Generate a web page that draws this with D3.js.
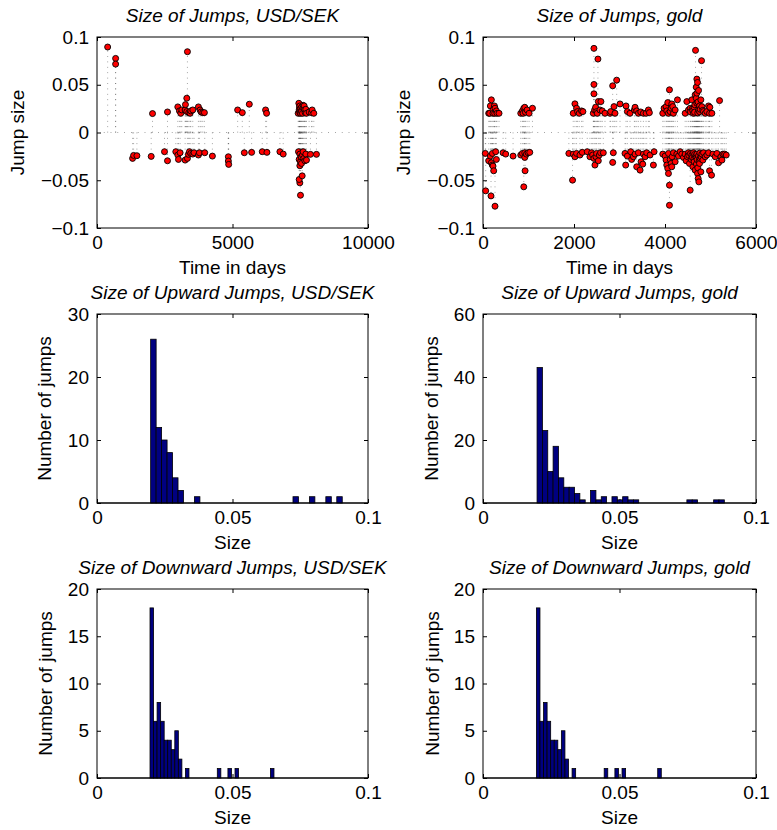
<!DOCTYPE html>
<html>
<head>
<meta charset="utf-8">
<script src="https://cdn.jsdelivr.net/npm/d3@7"></script>
<style>
  body { margin: 0; background: #fff; }
  text { font-family: "Liberation Sans", Arial, Helvetica, sans-serif; fill: #000; }
</style>
</head>
<body>
<div id="figure"></div>
<script>
// Jump sizes: [day, size]
const usdsekJumps = [
  [393,0.0895],[687,0.0776],[687,0.0716],[2049,0.0198],[2601,0.0215],[2982,0.0268],[3043,0.0226],[3092,0.0201],
  [3129,0.0236],[3252,0.0236],[3264,0.0292],[3313,0.0359],[3337,0.0846],[3313,0.0219],[3387,0.0208],[3436,0.0201],
  [3460,0.0226],[3534,0.0236],[3742,0.0268],[3804,0.0236],[3841,0.0215],[3902,0.0208],[3963,0.0208],[5190,0.0236],
  [5362,0.0208],[5620,0.0296],[6221,0.0236],[6258,0.0201],[7423,0.0201],[7448,0.0306],[7460,0.0236],[7473,0.0264],
  [7485,0.0278],[7485,0.0208],[7509,0.0201],[7522,0.0254],[7546,0.0219],[7559,0.0271],[7583,0.0201],[7607,0.0285],
  [7632,0.0254],[7644,0.0278],[7656,0.0236],[7681,0.0208],[7706,0.0243],[7730,0.0201],[7828,0.0215],[7914,0.0208],
  [7939,0.0236],[8000,0.0201],
  [1313,-0.0271],[1350,-0.0240],[1472,-0.0243],[2000,-0.0250],[2491,-0.0201],[2601,-0.0296],[2908,-0.0201],[2982,-0.0236],
  [3006,-0.0282],[3067,-0.0212],[3252,-0.0289],[3337,-0.0271],[3374,-0.0229],[3411,-0.0201],[3460,-0.0219],[3534,-0.0226],
  [3583,-0.0212],[3742,-0.0236],[3779,-0.0212],[3975,-0.0212],[4258,-0.0247],[4847,-0.0254],[4847,-0.0299],[4859,-0.0334],
  [5436,-0.0212],[5706,-0.0208],[6098,-0.0201],[6270,-0.0208],[6749,-0.0201],[6871,-0.0226],[7435,-0.0201],[7460,-0.0282],
  [7485,-0.0226],[7485,-0.0348],[7485,-0.0527],[7509,-0.0306],[7509,-0.0657],[7534,-0.0254],[7546,-0.0324],[7460,-0.0492],
  [7571,-0.0454],[7583,-0.0236],[7607,-0.0201],[7632,-0.0271],[7669,-0.0296],[7706,-0.0226],[7730,-0.0289],[7877,-0.0229],
  [8098,-0.0229]
];

const goldJumps = [
  [125,0.0201],[147,0.0201],[162,0.0278],[184,0.0342],[220,0.0236],[220,0.0201],[250,0.0278],[257,0.0201],
  [264,0.0254],[294,0.0226],[308,0.0201],[352,0.0201],
  [830,0.0201],[866,0.0226],[881,0.0201],[896,0.0254],[918,0.0264],[933,0.0212],[969,0.0236],[1013,0.0201],[1087,0.0254],
  [1983,0.0201],[2020,0.0300],[2056,0.0254],[2078,0.0219],[2115,0.0201],[2166,0.0226],[2196,0.0219],
  [2424,0.0201],[2438,0.0881],[2438,0.0503],[2438,0.0405],[2453,0.0236],[2475,0.0264],[2497,0.0219],[2512,0.0201],
  [2526,0.0769],[2534,0.0324],[2570,0.0236],[2592,0.0324],[2622,0.0226],[2681,0.0201],[2791,0.0201],[2806,0.0219],
  [2850,0.0489],[2879,0.0271],[2901,0.0201],[2938,0.0548],[3011,0.0299],
  [3143,0.0278],[3173,0.0219],[3231,0.0201],[3327,0.0236],[3342,0.0264],[3378,0.0226],[3415,0.0201],[3467,0.0215],
  [3525,0.0201],[3584,0.0201],[3635,0.0236],[3657,0.0208],
  [3951,0.0201],[3980,0.0254],[4024,0.0271],[4039,0.0226],[4061,0.0313],[4076,0.0201],[4098,0.0447],[4113,0.0219],
  [4135,0.0254],[4149,0.0299],[4171,0.0271],[4186,0.0201],[4223,0.0236],[4274,0.0342],
  [4443,0.0201],[4480,0.0324],[4516,0.0236],[4553,0.0254],[4560,0.0215],[4590,0.0342],[4600,0.0250],[4610,0.0228],
  [4626,0.0201],[4641,0.0264],[4650,0.0212],[4655,0.0290],[4663,0.0394],[4671,0.0860],[4686,0.0475],[4686,0.0359],
  [4700,0.0559],[4700,0.0306],[4700,0.0412],[4715,0.0524],[4720,0.0205],[4725,0.0320],[4737,0.0440],[4737,0.0236],
  [4759,0.0278],[4760,0.0218],[4773,0.0243],[4788,0.0342],[4803,0.0752],[4810,0.0271],[4830,0.0232],[4847,0.0219],
  [4884,0.0201],[4920,0.0219],[4957,0.0278],[4979,0.0201],[4986,0.0264],[5030,0.0201],[5199,0.0334],
  [51,-0.0219],[59,-0.0611],[125,-0.0296],[162,-0.0247],[176,-0.0664],[184,-0.0317],[206,-0.0341],[206,-0.0219],
  [220,-0.0352],[235,-0.0401],[264,-0.0772],[279,-0.0201],[294,-0.0282],[441,-0.0212],[499,-0.0226],[661,-0.0247],
  [830,-0.0236],[866,-0.0219],[896,-0.0569],[918,-0.0261],[918,-0.0212],[925,-0.0401],[955,-0.0226],[991,-0.0212],[1028,-0.0208],
  [1887,-0.0219],[1968,-0.0499],[1983,-0.0226],[2020,-0.0254],[2056,-0.0219],[2130,-0.0236],[2181,-0.0208],
  [2291,-0.0201],[2350,-0.0254],[2387,-0.0212],[2409,-0.0236],[2438,-0.0271],[2460,-0.0341],[2482,-0.0254],[2497,-0.0219],
  [2534,-0.0296],[2556,-0.0236],[2585,-0.0212],[2644,-0.0212],[2850,-0.0313],[2864,-0.0212],
  [3121,-0.0219],[3136,-0.0341],[3173,-0.0247],[3246,-0.0201],[3268,-0.0282],[3305,-0.0254],[3342,-0.0226],[3378,-0.0359],
  [3415,-0.0212],[3452,-0.0394],[3474,-0.0306],[3511,-0.0331],[3525,-0.0226],[3562,-0.0254],[3598,-0.0212],[3672,-0.0236],
  [3745,-0.0341],[3760,-0.0201],
  [3951,-0.0226],[4002,-0.0247],[4024,-0.0289],[4039,-0.0341],[4061,-0.0377],[4076,-0.0219],[4076,-0.0429],[4098,-0.0552],
  [4098,-0.0762],[4113,-0.0282],[4135,-0.0324],[4149,-0.0359],[4157,-0.0254],[4186,-0.0212],[4223,-0.0306],[4259,-0.0226],
  [4296,-0.0247],[4333,-0.0201],[4370,-0.0226],[4406,-0.0261],
  [4443,-0.0226],[4465,-0.0296],[4494,-0.0254],[4516,-0.0212],[4525,-0.0240],[4538,-0.0324],[4553,-0.0604],[4560,-0.0222],
  [4575,-0.0282],[4590,-0.0236],[4600,-0.0262],[4612,-0.0359],[4626,-0.0212],[4635,-0.0275],[4641,-0.0306],[4650,-0.0230],
  [4663,-0.0394],[4670,-0.0250],[4686,-0.0261],[4690,-0.0330],[4700,-0.0226],[4705,-0.0285],[4715,-0.0429],[4720,-0.0370],
  [4729,-0.0482],[4735,-0.0245],[4744,-0.0517],[4750,-0.0300],[4759,-0.0324],[4765,-0.0215],[4773,-0.0271],[4788,-0.0412],
  [4795,-0.0255],[4810,-0.0226],[4832,-0.0289],[4847,-0.0212],[4884,-0.0254],[4920,-0.0236],[4957,-0.0212],[4979,-0.0401],
  [5023,-0.0447],[5053,-0.0226],[5104,-0.0254],[5141,-0.0219],[5177,-0.0317],[5229,-0.0254],[5251,-0.0289],[5273,-0.0226],
  [5310,-0.0226],[5346,-0.0236]
];

// Histogram bins: first edge, bin width, counts (35 bins each)
const usdUpStart = 0.0198, usdUpWidth = 0.00202;
const usdUpCounts = [26,12,10,8,4,2,0,0,1,0, 0,0,0,0,0,0,0,0,0,0, 0,0,0,0,0,0,1,0,0,1, 0,0,1,0,1];
const goldUpStart = 0.0198, goldUpWidth = 0.00196;
const goldUpCounts = [43,23,10,18,8,5,5,3,1,0, 4,1,2,0,2,1,2,1,1,0, 0,0,0,0,0,0,0,0,1,1, 0,0,0,1,1];
const downStart = 0.01956, downWidth = 0.001307;
const usdDownCounts = [18,6,8,6,4,4,3,5,2,0, 1,0,0,0,0,0,0,0,0,1, 0,0,1,0,1,0,0,0,0,0, 0,0,0,0,1];
const goldDownCounts = [18,6,8,6,4,4,3,5,2,0, 1,0,0,0,0,0,0,0,0,1, 0,0,1,0,1,0,0,0,0,0, 0,0,0,0,1];

// Tick values
const jumpTicks = [-0.1, -0.05, 0, 0.05, 0.1];
const usdDayTicks = [0, 5000, 10000];
const goldDayTicks = [0, 2000, 4000, 6000];
const sizeTicks = [0, 0.05, 0.1];

// Layout of the 3x2 grid
const cols = [{ left: 97, width: 271 }, { left: 483, width: 273 }];
const rows = [{ top: 37, height: 191 }, { top: 314, height: 189 }, { top: 589, height: 189 }];
const ylabelX = [[24, 410], [51, 438], [52, 439]];
const fontSize = 19;

const svg = d3.select("#figure")
  .append("svg")
  .attr("width", 777)
  .attr("height", 830);

svg.append("rect").attr("width", 777).attr("height", 830).attr("fill", "#fff");

const fmt = d => d === 0 ? "0" : String(d).replace("-", "\u2212");

// Draws box, inward ticks on all four sides, tick labels, title and axis labels
function frame(r, c, x, y, xTicks, yTicks, title, xLabel, yLabel) {
  const { left, width } = cols[c];
  const { top, height } = rows[r];
  const g = svg.append("g").attr("transform", `translate(${left},${top})`);

  const styleAxis = sel => {
    sel.select(".domain").remove();
    sel.selectAll("line").attr("stroke", "#000");
    sel.selectAll("text").attr("font-size", fontSize).attr("fill", "#000")
      .attr("font-family", "'Liberation Sans', Arial, sans-serif");
  };

  g.append("g").attr("transform", `translate(0,${height})`)
    .call(d3.axisBottom(x).tickValues(xTicks).tickFormat(fmt).tickSize(-4).tickPadding(7.5))
    .call(styleAxis);
  g.append("g")
    .call(d3.axisTop(x).tickValues(xTicks).tickFormat("").tickSize(-4))
    .call(styleAxis);
  g.append("g")
    .call(d3.axisLeft(y).tickValues(yTicks).tickFormat(fmt).tickSize(-4).tickPadding(8))
    .call(styleAxis);
  g.append("g").attr("transform", `translate(${width},0)`)
    .call(d3.axisRight(y).tickValues(yTicks).tickFormat("").tickSize(-4))
    .call(styleAxis);

  g.append("rect")
    .attr("width", width).attr("height", height)
    .attr("fill", "none").attr("stroke", "#000").attr("stroke-width", 1);

  g.append("text")
    .attr("x", width / 2).attr("y", -15)
    .attr("text-anchor", "middle")
    .attr("font-size", fontSize).attr("font-style", "italic")
    .text(title);

  g.append("text")
    .attr("x", width / 2).attr("y", height + 46)
    .attr("text-anchor", "middle")
    .attr("font-size", fontSize)
    .text(xLabel);

  svg.append("text")
    .attr("transform", `translate(${ylabelX[r][c]},${top + height / 2}) rotate(-90)`)
    .attr("text-anchor", "middle")
    .attr("font-size", fontSize)
    .text(yLabel);

  return g;
}

// Stem plot of jumps: dotted stems, dotted baseline, red circles
function stemPanel(c, data, xMax, xTicks, title) {
  const x = d3.scaleLinear().domain([0, xMax]).range([0, cols[c].width]);
  const y = d3.scaleLinear().domain([-0.1, 0.1]).range([rows[0].height, 0]);
  const g = frame(0, c, x, y, xTicks, jumpTicks, title, "Time in days", "Jump size");

  g.append("line")
    .attr("x1", x(0)).attr("x2", x(xMax))
    .attr("y1", y(0)).attr("y2", y(0))
    .attr("stroke", "#444").attr("stroke-width", 0.6)
    .attr("stroke-dasharray", "0.8,6");

  g.selectAll(".stem")
    .data(data)
    .enter()
    .append("line")
    .attr("class", "stem")
    .attr("x1", d => x(d[0])).attr("x2", d => x(d[0]))
    .attr("y1", y(0)).attr("y2", d => y(d[1]))
    .attr("stroke", "#444").attr("stroke-width", 0.6)
    .attr("stroke-dasharray", "0.8,4.6");

  g.selectAll(".point")
    .data(data)
    .enter()
    .append("circle")
    .attr("class", "point")
    .attr("cx", d => x(d[0]))
    .attr("cy", d => y(d[1]))
    .attr("r", 3)
    .attr("fill", "#ff0000")
    .attr("stroke", "#000")
    .attr("stroke-width", 0.9);
}

// Histogram of jump sizes from bin edges and counts
function histPanel(r, c, start, binW, counts, yMax, yTicks, title) {
  const x = d3.scaleLinear().domain([0, 0.1]).range([0, cols[c].width]);
  const y = d3.scaleLinear().domain([0, yMax]).range([rows[r].height, 0]);
  const g = frame(r, c, x, y, sizeTicks, yTicks, title, "Size", "Number of jumps");

  g.selectAll(".bar")
    .data(counts.map((n, i) => ({ x0: start + i * binW, x1: start + (i + 1) * binW, n })).filter(d => d.n > 0))
    .enter()
    .append("rect")
    .attr("class", "bar")
    .attr("x", d => x(d.x0))
    .attr("width", d => x(d.x1) - x(d.x0))
    .attr("y", d => y(d.n))
    .attr("height", d => y(0) - y(d.n))
    .attr("fill", "#000080")
    .attr("stroke", "#000")
    .attr("stroke-width", 0.8);

  // redraw the bottom edge over the bars
  g.append("line")
    .attr("x1", 0).attr("x2", cols[c].width)
    .attr("y1", rows[r].height).attr("y2", rows[r].height)
    .attr("stroke", "#000");
}

stemPanel(0, usdsekJumps, 10000, usdDayTicks, "Size of Jumps, USD/SEK");
stemPanel(1, goldJumps, 6000, goldDayTicks, "Size of Jumps, gold");

histPanel(1, 0, usdUpStart, usdUpWidth, usdUpCounts, 30, [0, 10, 20, 30], "Size of Upward Jumps, USD/SEK");
histPanel(1, 1, goldUpStart, goldUpWidth, goldUpCounts, 60, [0, 20, 40, 60], "Size of Upward Jumps, gold");
histPanel(2, 0, downStart, downWidth, usdDownCounts, 20, [0, 5, 10, 15, 20], "Size of Downward Jumps, USD/SEK");
histPanel(2, 1, downStart, downWidth, goldDownCounts, 20, [0, 5, 10, 15, 20], "Size of Downward Jumps, gold");
</script>
</body>
</html>
